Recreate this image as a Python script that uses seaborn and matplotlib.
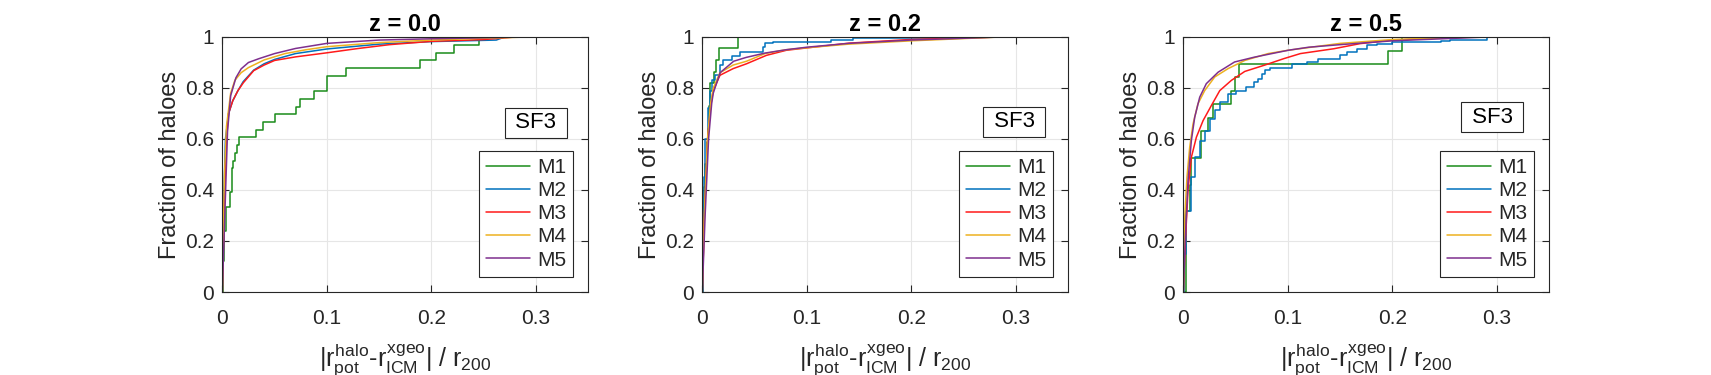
import numpy as np
import pandas as pd
import matplotlib
matplotlib.use("Agg")
import matplotlib.pyplot as plt
import seaborn as sns

# ---------------- data ----------------
models = ["M1", "M2", "M3", "M4", "M5"]
panel_titles = ["z = 0.0", "z = 0.2", "z = 0.5"]
x_ticks = [0, 0.1, 0.2, 0.3]
x_tick_labels = ["0", "0.1", "0.2", "0.3"]
y_ticks = [0, 0.2, 0.4, 0.6, 0.8, 1.0]
y_tick_labels = ["0", "0.2", "0.4", "0.6", "0.8", "1"]

# z = 0.0
z0_m1_x = [0, 0.0005, 0.001, 0.002, 0.004, 0.0070, 0.0089, 0.0105, 0.0121, 0.0143, 0.0162, 0.0322, 0.0392,
           0.0503, 0.0704, 0.0742, 0.0879, 0.0997, 0.118, 0.189, 0.204, 0.222, 0.2455]
z0_m1_y = [0, 0.03, 0.12, 0.24, 0.333, 0.394, 0.485, 0.515, 0.545, 0.576, 0.606, 0.636, 0.667,
           0.697, 0.727, 0.758, 0.788, 0.848, 0.879, 0.909, 0.939, 0.970, 1.0]
z0_m2_x = [0, 0.001, 0.003, 0.006, 0.010, 0.015, 0.020, 0.030, 0.040, 0.050, 0.070, 0.100, 0.150, 0.200, 0.262, 0.27]
z0_m2_y = [0, 0.30, 0.60, 0.70, 0.75, 0.79, 0.825, 0.87, 0.895, 0.912, 0.935, 0.953, 0.972, 0.982, 0.988, 1.0]
z0_m3_x = [0, 0.002, 0.004, 0.006, 0.010, 0.015, 0.020, 0.030, 0.040, 0.050, 0.070, 0.100, 0.130, 0.160, 0.200, 0.250, 0.280]
z0_m3_y = [0, 0.35, 0.60, 0.70, 0.75, 0.79, 0.82, 0.868, 0.89, 0.908, 0.922, 0.938, 0.955, 0.97, 0.983, 0.99, 1.0]
z0_m4_x = [0, 0.002, 0.004, 0.008, 0.012, 0.018, 0.025, 0.040, 0.060, 0.080, 0.100, 0.150, 0.200, 0.250, 0.292]
z0_m4_y = [0, 0.45, 0.65, 0.78, 0.83, 0.86, 0.88, 0.91, 0.935, 0.95, 0.962, 0.978, 0.988, 0.995, 1.0]
z0_m5_x = [0, 0.002, 0.005, 0.008, 0.013, 0.018, 0.025, 0.035, 0.050, 0.070, 0.100, 0.150, 0.200, 0.250, 0.285]
z0_m5_y = [0, 0.25, 0.63, 0.77, 0.84, 0.875, 0.90, 0.915, 0.935, 0.955, 0.975, 0.988, 0.993, 0.997, 1.0]

# z = 0.2
z2_m1_x = [0, 0.0005, 0.001, 0.002, 0.0029, 0.0042, 0.0054, 0.0065, 0.0073, 0.0114, 0.013, 0.0159, 0.0343]
z2_m1_y = [0, 0.09, 0.27, 0.41, 0.50, 0.59, 0.64, 0.73, 0.82, 0.864, 0.909, 0.955, 1.0]
z2_m2_x = [0, 0.0005, 0.001, 0.002, 0.003, 0.005, 0.007, 0.009, 0.012, 0.017, 0.020, 0.028, 0.036, 0.058,
           0.060, 0.068, 0.123, 0.144, 0.26]
z2_m2_y = [0, 0.10, 0.30, 0.45, 0.60, 0.72, 0.79, 0.83, 0.85, 0.89, 0.91, 0.925, 0.94, 0.96,
           0.976, 0.98, 0.987, 0.996, 1.0]
z2_m3_x = [0, 0.002, 0.005, 0.008, 0.0105, 0.0169, 0.0295, 0.0423, 0.0613, 0.0804, 0.0994, 0.1407, 0.198, 0.283]
z2_m3_y = [0, 0.30, 0.60, 0.73, 0.79, 0.85, 0.876, 0.895, 0.928, 0.948, 0.957, 0.976, 0.99, 1.0]
z2_m4_x = [0, 0.002, 0.005, 0.008, 0.0105, 0.0169, 0.0295, 0.0423, 0.060, 0.080, 0.100, 0.140, 0.200, 0.285]
z2_m4_y = [0, 0.30, 0.60, 0.74, 0.80, 0.86, 0.89, 0.905, 0.935, 0.95, 0.958, 0.972, 0.985, 1.0]
z2_m5_x = [0, 0.0027, 0.006, 0.009, 0.0105, 0.017, 0.030, 0.042, 0.060, 0.080, 0.100, 0.140, 0.200, 0.285]
z2_m5_y = [0, 0.30, 0.60, 0.74, 0.78, 0.86, 0.905, 0.92, 0.937, 0.95, 0.96, 0.975, 0.988, 1.0]

# z = 0.5
z5_m1_x = [0, 0.0026, 0.006, 0.0071, 0.017, 0.0234, 0.0287, 0.0454, 0.0495, 0.0536, 0.196, 0.209]
z5_m1_y = [0, 0.316, 0.421, 0.526, 0.632, 0.684, 0.737, 0.789, 0.842, 0.895, 0.947, 1.0]
z5_m2_x = [0, 0.001, 0.0029, 0.0077, 0.0109, 0.0157, 0.0205, 0.0253, 0.030, 0.0349, 0.0428, 0.0508, 0.0603,
           0.0672, 0.0715, 0.075, 0.0785, 0.083, 0.104, 0.118, 0.129, 0.150, 0.1565, 0.166, 0.1757, 0.185,
           0.20, 0.246, 0.2555, 0.29]
z5_m2_y = [0, 0.15, 0.318, 0.45, 0.528, 0.594, 0.633, 0.679, 0.712, 0.744, 0.777, 0.79, 0.803,
           0.823, 0.836, 0.856, 0.872, 0.879, 0.895, 0.902, 0.915, 0.928, 0.941, 0.954, 0.967, 0.974,
           0.98, 0.983, 0.99, 1.0]
z5_m3_x = [0, 0.002, 0.0045, 0.0077, 0.0125, 0.0189, 0.0268, 0.0349, 0.046, 0.0588, 0.078, 0.096, 0.112,
           0.144, 0.169, 0.198, 0.24, 0.28]
z5_m3_y = [0, 0.20, 0.40, 0.528, 0.607, 0.672, 0.731, 0.79, 0.83, 0.865, 0.89, 0.915, 0.935,
           0.954, 0.974, 0.987, 0.995, 1.0]
z5_m4_x = [0, 0.0015, 0.0035, 0.0061, 0.0093, 0.014, 0.0205, 0.030, 0.0428, 0.0588, 0.0811, 0.1003, 0.15, 0.20, 0.27]
z5_m4_y = [0, 0.30, 0.45, 0.567, 0.659, 0.738, 0.79, 0.843, 0.876, 0.908, 0.935, 0.948, 0.975, 0.99, 1.0]
z5_m5_x = [0, 0.001, 0.0023, 0.0045, 0.0077, 0.0109, 0.0157, 0.022, 0.0333, 0.049, 0.068, 0.1003, 0.12,
           0.15, 0.20, 0.29]
z5_m5_y = [0, 0.11, 0.24, 0.436, 0.594, 0.685, 0.764, 0.817, 0.862, 0.902, 0.921, 0.948, 0.96,
           0.97, 0.985, 1.0]

curves = [
    [(z0_m1_x, z0_m1_y), (z0_m2_x, z0_m2_y), (z0_m3_x, z0_m3_y), (z0_m4_x, z0_m4_y), (z0_m5_x, z0_m5_y)],
    [(z2_m1_x, z2_m1_y), (z2_m2_x, z2_m2_y), (z2_m3_x, z2_m3_y), (z2_m4_x, z2_m4_y), (z2_m5_x, z2_m5_y)],
    [(z5_m1_x, z5_m1_y), (z5_m2_x, z5_m2_y), (z5_m3_x, z5_m3_y), (z5_m4_x, z5_m4_y), (z5_m5_x, z5_m5_y)],
]
# curves drawn as stairs (few haloes)
step_curves = {(0, 0), (1, 0), (1, 1), (2, 0), (2, 1)}

# ---------------- styling ----------------
colors = ["#1a8c1a", "#0072BD", "#FF1A1A", "#EDB120", "#7E2F8E"]
ink = "#262626"

sns.set_theme(style="whitegrid")
plt.rcParams["font.family"] = ["Liberation Sans", "DejaVu Sans"]
plt.rcParams["mathtext.fontset"] = "custom"
plt.rcParams["mathtext.rm"] = "Liberation Sans"
plt.rcParams["mathtext.it"] = "Liberation Sans"
plt.rcParams["mathtext.bf"] = "Liberation Sans:bold"

fig = plt.figure(figsize=(17.11, 3.75), dpi=100)
lefts = [222.3 / 1711, 702.3 / 1711, 1183.3 / 1711]
ax_w = 366 / 1711
ax_b = 1 - 292 / 375
ax_h = 255 / 375

xlabel = r"$|r^{\mathrm{halo}}_{\mathrm{pot}}$-$r^{\mathrm{xgeo}}_{\mathrm{ICM}}|$ / $r_{200}$"
sf3_pos = [(0.857, 0.663), (0.852, 0.668), (0.844, 0.686)]

for p in range(3):
    ax = fig.add_axes([lefts[p], ax_b, ax_w, ax_h])
    ax.set_facecolor("white")
    for m in range(5):
        xs, ys = curves[p][m]
        df = pd.DataFrame({"x": xs, "y": ys})
        ds = "steps-post" if (p, m) in step_curves else "default"
        sns.lineplot(data=df, x="x", y="y", ax=ax, color=colors[m], lw=1.1,
                     estimator=None, sort=False, drawstyle=ds, label=models[m])
    ax.set_xlim(0, 0.35)
    ax.set_ylim(0, 1)
    ax.set_xticks(x_ticks)
    ax.set_xticklabels(x_tick_labels)
    ax.set_yticks(y_ticks)
    ax.set_yticklabels(y_tick_labels)
    ax.grid(True, color="#e6e6e6", lw=0.8)
    for s in ax.spines.values():
        s.set_visible(True)
        s.set_color(ink)
        s.set_linewidth(0.8)
    ax.tick_params(direction="in", length=5, width=0.8, colors=ink, labelsize=15,
                   top=True, right=True, bottom=True, left=True)
    ax.tick_params(axis="x", pad=12)
    ax.tick_params(axis="y", pad=6)
    ax.set_title(panel_titles[p], fontsize=17, fontweight="bold", pad=4, color="black")
    ax.set_ylabel("Fraction of haloes", fontsize=17, color=ink, labelpad=3)
    ax.set_xlabel(xlabel, fontsize=18, color=ink, labelpad=10)

    handles, labels = ax.get_legend_handles_labels()
    leg = ax.legend(handles, labels, loc="lower right", bbox_to_anchor=(0.959, 0.059),
                    fontsize=15, frameon=True, fancybox=False, framealpha=1,
                    edgecolor=ink, borderaxespad=0, handlelength=2.1, handletextpad=0.35,
                    labelspacing=0.2, borderpad=0.35)
    leg.get_frame().set_linewidth(0.8)
    ax.text(sf3_pos[p][0], sf3_pos[p][1], " SF3 ", transform=ax.transAxes, fontsize=16,
            ha="center", va="center", color="black",
            bbox=dict(boxstyle="square,pad=0.2", fc="white", ec=ink, lw=0.8))

fig.savefig("out.png", dpi=100, facecolor="white")
